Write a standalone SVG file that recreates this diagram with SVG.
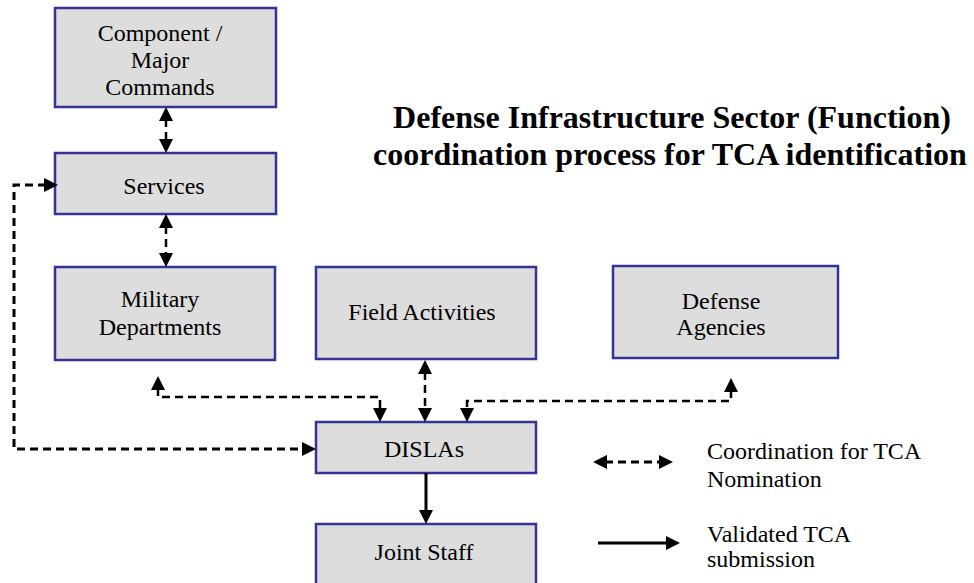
<svg xmlns="http://www.w3.org/2000/svg" width="974" height="583" viewBox="0 0 974 583">
<style>
.box{fill:#dddddd;stroke:#33339a;stroke-width:2.5}
.t{font-family:"Liberation Serif","Times New Roman",serif;font-size:24px;fill:#000;text-anchor:middle}
.lg{font-family:"Liberation Serif","Times New Roman",serif;font-size:24px;fill:#000}
.title{font-family:"Liberation Serif","Times New Roman",serif;font-size:32px;font-weight:bold;fill:#000;text-anchor:middle}
.dash{fill:none;stroke:#000;stroke-width:2.5;stroke-dasharray:8 5;marker-start:url(#ah);marker-end:url(#ah)}
.solid{fill:none;stroke:#000;stroke-width:2.5;marker-end:url(#ah)}
</style>
<defs>
<marker id="ah" viewBox="0 0 14 14" refX="2" refY="7" markerWidth="14" markerHeight="14" markerUnits="userSpaceOnUse" orient="auto-start-reverse">
<path d="M0,0 L14,7 L0,14 z" fill="#000"/>
</marker>
</defs>
<rect width="974" height="583" fill="#fff"/>
<g id="title">
<text class="title" x="672" y="128">Defense Infrastructure Sector (Function)</text>
<text class="title" x="670" y="165">coordination process for TCA identification</text>
</g>
<g id="component">
<rect class="box" x="55" y="8" width="221" height="99"/>
<text class="t" x="160" y="41">Component /</text>
<text class="t" x="160" y="68">Major</text>
<text class="t" x="160" y="95">Commands</text>
</g>
<g id="services">
<rect class="box" x="55" y="153" width="221" height="61"/>
<text class="t" x="164" y="194">Services</text>
</g>
<g id="military">
<rect class="box" x="55" y="267" width="220" height="93"/>
<text class="t" x="160" y="307">Military</text>
<text class="t" x="160" y="335">Departments</text>
</g>
<g id="field">
<rect class="box" x="316" y="267" width="220" height="92"/>
<text class="t" x="422" y="320">Field Activities</text>
</g>
<g id="defense">
<rect class="box" x="613" y="266" width="225" height="92"/>
<text class="t" x="721" y="309">Defense</text>
<text class="t" x="721" y="335">Agencies</text>
</g>
<g id="dislas">
<rect class="box" x="316" y="422" width="220" height="51"/>
<text class="t" x="424" y="457">DISLAs</text>
</g>
<g id="joint">
<rect class="box" x="316" y="524" width="220" height="80"/>
<text class="t" x="424" y="560">Joint Staff</text>
</g>
<g id="connectors">
<path class="dash" d="M166,119 V141"/>
<path class="dash" d="M166,226 V255"/>
<path class="dash" d="M158,388 V397 H380 V410"/>
<path class="dash" d="M425,372 V410"/>
<path class="dash" d="M731,390 V401 H467 V410"/>
<path class="dash" style="stroke-width:3" d="M46,185 H14 V449 H304"/>
<path class="solid" style="stroke-width:3" d="M426,473 V512"/>
</g>
<g id="legend">
<path class="dash" style="stroke-width:3" d="M605,462 H661"/>
<path class="solid" style="stroke-width:3" d="M598,543 H668"/>
<text class="lg" x="707" y="459">Coordination for TCA</text>
<text class="lg" x="707" y="487">Nomination</text>
<text class="lg" x="707" y="542">Validated TCA</text>
<text class="lg" x="707" y="567">submission</text>
</g>
</svg>
